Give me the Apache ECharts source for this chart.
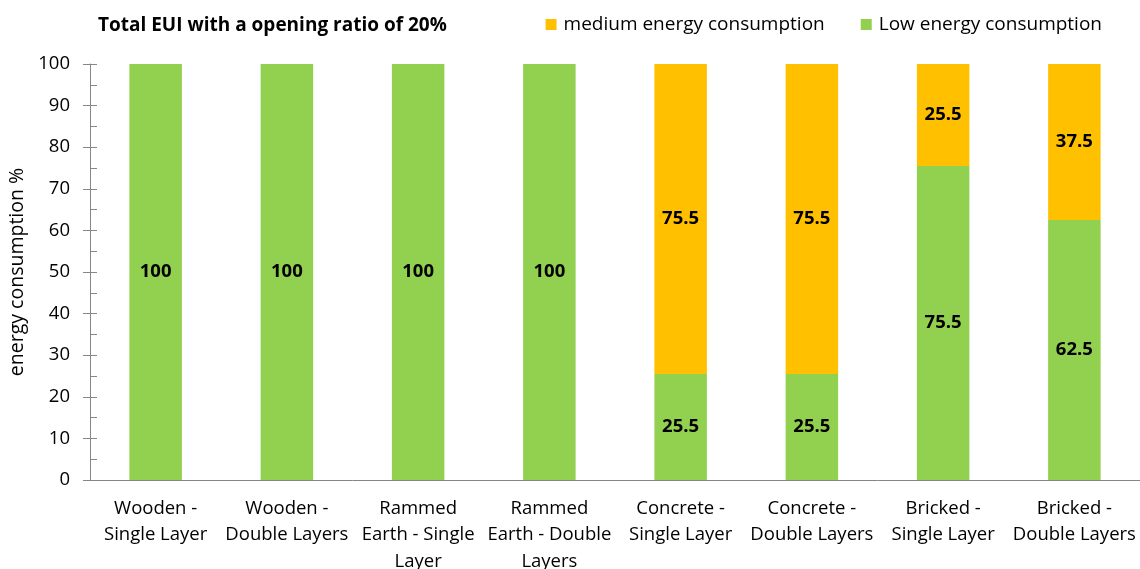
<!DOCTYPE html>
<html><head><meta charset="utf-8">
<script src="https://cdn.jsdelivr.net/npm/echarts@6/dist/echarts.min.js"></script>
<style>html,body{margin:0;padding:0;background:#fff}#c{width:1140px;height:569px}</style>
</head><body><div id="c"></div>
<script>
const categories = ["Wooden -\nSingle Layer","Wooden -\nDouble Layers","Rammed\nEarth - Single\nLayer","Rammed\nEarth - Double\nLayers","Concrete -\nSingle Layer","Concrete -\nDouble Layers","Bricked -\nSingle Layer","Bricked -\nDouble Layers"];
const lowValues = [100,100,100,100,25.5,25.5,75.5,62.5];
const mediumValues = [0,0,0,0,75.5,75.5,25.5,37.5];
const yTicks = [0,10,20,30,40,50,60,70,80,90,100];
const FONT = '"Open Sans", "Liberation Sans", sans-serif';
const AX = '#868686';
const chart = echarts.init(document.getElementById('c'), null, {renderer:'canvas'});
const lbl = {show:true, position:'inside', color:'#000', fontWeight:'bold', fontSize:18.5, fontFamily:FONT,
  formatter: p => p.value ? String(p.value) : ''};
chart.setOption({
  animation:false,
  title:{text:'Total EUI with a opening ratio of 20%', left:93, top:11,
    textStyle:{fontSize:19, fontWeight:'bold', color:'#000', fontFamily:FONT}},
  legend:{data:['medium energy consumption','Low energy consumption'], right:33, top:10, itemWidth:11, itemHeight:11, itemGap:36,
    icon:'rect', textStyle:{fontSize:19, color:'#000', fontFamily:FONT, padding:[0,0,0,2]}},
  grid:{left:90, right:0, top:64, bottom:89, containLabel:false, outerBoundsMode:'none'},
  xAxis:{type:'category', data:categories,
    axisLine:{lineStyle:{color:AX}}, axisTick:{show:false},
    axisLabel:{interval:0, color:'#000', fontSize:18.5, fontFamily:FONT, lineHeight:26.5, margin:15}},
  yAxis:[
    {type:'value', min:yTicks[0], max:yTicks[yTicks.length-1], interval:10,
    name:'energy consumption %', nameLocation:'middle', nameGap:63, nameRotate:90,
    nameTextStyle:{fontSize:19.5, color:'#000', fontFamily:FONT},
    axisLine:{show:true, lineStyle:{color:AX}},
    axisTick:{show:true, length:7, lineStyle:{color:AX}},
    splitLine:{show:false},
    axisLabel:{color:'#000', fontSize:18.5, fontFamily:FONT, margin:20}},
    {type:'value', position:'left', offset:0, min:yTicks[0], max:yTicks[yTicks.length-1], interval:10,
    axisLine:{show:false},
    axisTick:{show:true, inside:true, length:7, lineStyle:{color:AX}},
    minorTick:{show:true, splitNumber:2, length:7, lineStyle:{color:AX}},
    splitLine:{show:false}, axisLabel:{show:false}}
  ],
  series:[
    {name:'Low energy consumption', type:'bar', stack:'s', data:lowValues, barWidth:'40%',
      itemStyle:{color:'#92D050'}, label:lbl},
    {name:'medium energy consumption', type:'bar', stack:'s', data:mediumValues, barWidth:'40%',
      itemStyle:{color:'#FFC000'}, label:lbl}
  ]
});
</script></body></html>
